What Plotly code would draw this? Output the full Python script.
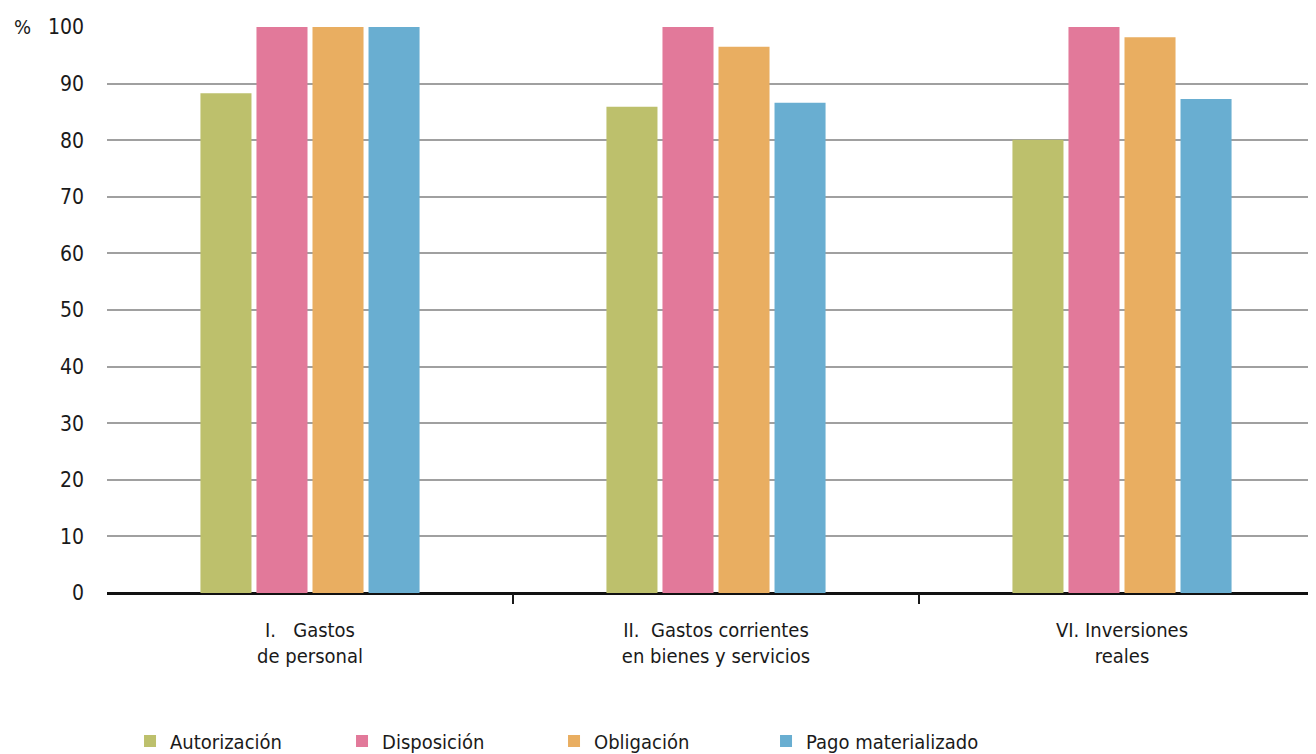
import plotly.graph_objects as go

categories = ["I.&nbsp;&nbsp;&nbsp;Gastos<br>de personal",
              "II.&nbsp;&nbsp;Gastos corrientes<br>en bienes y servicios",
              "VI. Inversiones<br>reales"]
series_names = ["Autorización", "Disposición", "Obligación", "Pago materializado"]
autorizacion = [88.3, 85.9, 80.1]
disposicion = [100, 100, 100]
obligacion = [100, 96.5, 98.2]
pago = [100, 86.6, 87.3]
colors = ["#BDC06C", "#E2799A", "#E9AE61", "#69AED1"]
y_ticks = [0, 10, 20, 30, 40, 50, 60, 70, 80, 90, 100]

FAM = "DejaVu Sans Condensed, Liberation Sans Narrow, Roboto, sans-serif"
def F(size):
    return dict(family=FAM, size=size, color="#1a1a1a")

x_idx = list(range(len(categories)))
fig = go.Figure()
for name, vals, col in zip(series_names, [autorizacion, disposicion, obligacion, pago], colors):
    fig.add_trace(go.Bar(x=x_idx, y=vals, name=name, marker=dict(color=col, line=dict(width=0))))

# invisible trace for boundary ticks axis
fig.add_trace(go.Scatter(x=[0.5, 1.5], y=[None, None], xaxis="x2", showlegend=False, hoverinfo="skip"))

# page body has an 8px margin, so the figure is offset by 8px right and down
fig.update_layout(
    width=1317, height=746,
    margin=dict(l=99, r=0, t=19, b=161, autoexpand=False),
    plot_bgcolor="white", paper_bgcolor="white",
    barmode="group", bargap=0.448, bargroupgap=0.089,
    font=F(20),
    xaxis=dict(range=[-0.5, 2.5], tickvals=x_idx, ticktext=categories,
               showgrid=False, ticks="", zeroline=False, showline=False,
               tickfont=F(20), ticklabelstandoff=23),
    xaxis2=dict(overlaying="x", range=[-0.5, 2.5], tickvals=[0.5, 1.5],
                ticks="outside", ticklen=10, tickwidth=1.8, tickcolor="#1a1a1a",
                showticklabels=False, showgrid=False, zeroline=False, showline=False,
                side="bottom", anchor="y"),
    yaxis=dict(range=[0, 100], tickvals=y_ticks, showgrid=True, gridcolor="#A0A0A0",
               gridwidth=2, zeroline=True, zerolinecolor="#111111", zerolinewidth=2.5,
               ticks="", ticklabelstandoff=22, tickfont=F(21)),
    legend=dict(orientation="h", x=0.0189, xanchor="left", yref="container",
                y=0.0174, yanchor="middle",
                font=F(20), entrywidth=167, traceorder="normal"),
    annotations=[dict(text="%", xref="paper", yref="y", x=-0.078, y=100,
                      xanchor="left", yanchor="middle", showarrow=False,
                      font=F(20))],
)

fig.write_html("out.html")
